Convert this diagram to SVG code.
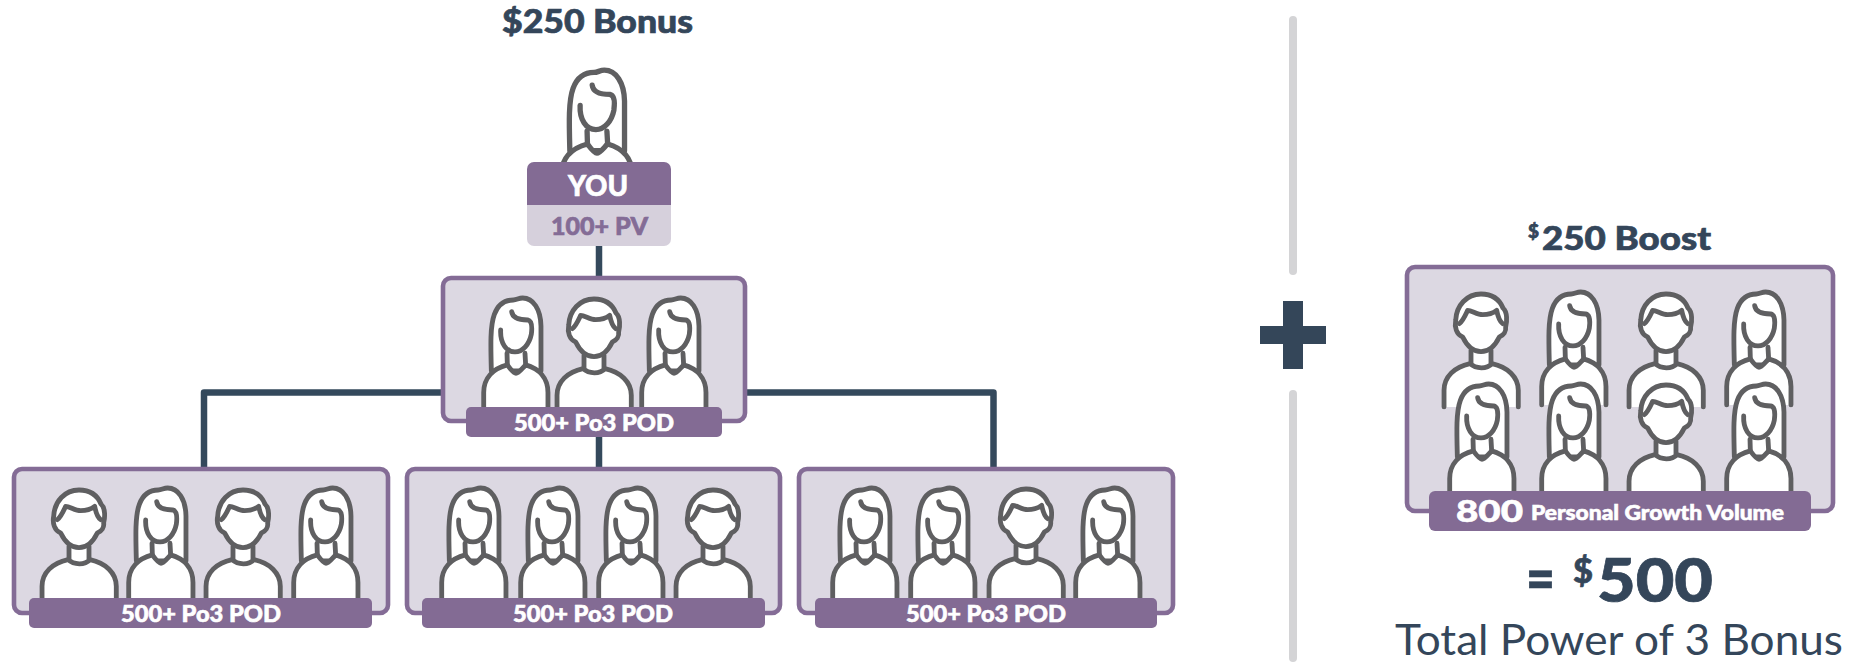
<svg xmlns="http://www.w3.org/2000/svg" width="1868" height="662" viewBox="0 0 1868 662">
<style>
.pod{fill:#dcd8e2;stroke:#846c96;stroke-width:4.600}
.lab{fill:#836b94}
.ico{fill:#fff;stroke:#5f5f61;stroke-width:14.500;stroke-linecap:round;stroke-linejoin:round}
.line{fill:none;stroke:#5f5f61;stroke-width:14.500;stroke-linecap:round;stroke-linejoin:round}
.nk{fill:#fff}
.cn{fill:none;stroke:#34495c;stroke-width:6.500;stroke-linejoin:round}
.t{font-family:Lato,"Open Sans",sans-serif;font-weight:900;fill:#34465a;stroke:#34465a;stroke-width:.7}
.w{font-family:Lato,"Open Sans",sans-serif;font-weight:900;fill:#fff;stroke:#fff;stroke-width:.6;text-anchor:middle}
.pl{font-size:22px}
</style>
<defs>
<g id="woman">
<path class="ico" d="M-74 225C-76 150-78 90-65 55C-52 20-28 12-8 12C2 12 8 6 20 6C52 6 74 40 75 90L75 225Z"/>
<path class="line" d="M-13 47C-10 70 20 72 35 72C50 75 48 100 46 115C40 145 20 168-3 168C-30 168-48 140-46 102"/>
<path class="line" d="M-27 172L-26 207M27 172L29 207"/>
<path class="ico" d="M-97 345V290C-97 245-68 218-26 207C-18 218-8 232 0 232C8 232 18 218 29 207C68 218 96 245 96 290V345"/>
</g>
<g id="man">
<path class="nk" d="M-30 170H30V225H-30Z"/>
<path class="ico" d="M-55 135C-74 128-80 105-76 85C-74 40-42 6 0 6C36 6 56 24 66 48C80 60 78 90 74 105C76 118 68 130 55 135C42 162 22 179 0 179C-22 179-42 162-55 135Z"/>
<path class="line" d="M-65 95C-55 88-48 72-40 55C-28 55-12 68 5 68C22 68 38 62 47 55C50 70 55 88 65 95"/>
<path class="line" d="M-30 175V213M30 175V213"/>
<path class="ico" d="M-111 345V295C-111 255-80 225-33 215C-15 232 18 232 33 215C80 225 112 255 112 295V345"/>
</g>
</defs>

<g id="divider" fill="#d4d4d6">
<rect x="1289" y="16" width="8" height="259" rx="4"/>
<rect x="1289" y="390" width="8" height="272" rx="4"/>
</g>
<path id="plus" fill="#344659" d="M1283 301H1303V326H1326V344H1303V369H1283V344H1260V326H1283Z"/>

<g id="connectors">
<path class="cn" d="M599 246V276M599 437V467M441 392.500H204V467M747 392.500H993.500V467"/>
</g>

<text class="t" x="502" y="33" font-size="32" textLength="191" lengthAdjust="spacingAndGlyphs">$250 Bonus</text>

<g id="you">
<use href="#woman" transform="translate(597 68) scale(.367)"/>
<path fill="#836b94" d="M527 205V169a7 7 0 0 1 7-7H664a7 7 0 0 1 7 7V205Z"/>
<path fill="#d6d0dc" d="M527 205H671V239a7 7 0 0 1-7 7H534a7 7 0 0 1-7-7Z"/>
<text class="w" x="598" y="196" font-size="28" textLength="60" lengthAdjust="spacingAndGlyphs">YOU</text>
<text x="599.500" y="235" font-size="25" font-family="Lato,sans-serif" font-weight="900" fill="#846c96" stroke="#846c96" stroke-width=".7" text-anchor="middle" textLength="97" lengthAdjust="spacingAndGlyphs">100+ PV</text>
</g>

<g id="pod-center">
<rect class="pod" x="443" y="278" width="302" height="143" rx="8"/>
<use href="#woman" transform="translate(516 296) scale(.333)"/>
<use href="#man" transform="translate(594 297) scale(.333)"/>
<use href="#woman" transform="translate(674 296) scale(.333)"/>
<rect class="lab" x="466" y="407" width="256" height="30" rx="5"/>
<text class="w pl" x="594" y="431" textLength="160" lengthAdjust="spacingAndGlyphs">500+ Po3 POD</text>
</g>

<g id="pod-left">
<rect class="pod" x="14" y="469" width="374" height="144" rx="8"/>
<use href="#man" transform="translate(79 488) scale(.333)"/>
<use href="#woman" transform="translate(161 486) scale(.333)"/>
<use href="#man" transform="translate(243 488) scale(.333)"/>
<use href="#woman" transform="translate(326 486) scale(.333)"/>
<rect class="lab" x="29" y="598" width="343" height="30" rx="5"/>
<text class="w pl" x="201" y="622" textLength="160" lengthAdjust="spacingAndGlyphs">500+ Po3 POD</text>
</g>

<g id="pod-middle">
<rect class="pod" x="407" y="469" width="373" height="144" rx="8"/>
<use href="#woman" transform="translate(474 486) scale(.333)"/>
<use href="#woman" transform="translate(553 486) scale(.333)"/>
<use href="#woman" transform="translate(631 486) scale(.333)"/>
<use href="#man" transform="translate(713 488) scale(.333)"/>
<rect class="lab" x="422" y="598" width="343" height="30" rx="5"/>
<text class="w pl" x="593" y="622" textLength="160" lengthAdjust="spacingAndGlyphs">500+ Po3 POD</text>
</g>

<g id="pod-right">
<rect class="pod" x="799" y="469" width="374" height="144" rx="8"/>
<use href="#woman" transform="translate(865 486) scale(.333)"/>
<use href="#woman" transform="translate(943 486) scale(.333)"/>
<use href="#man" transform="translate(1026 487) scale(.333)"/>
<use href="#woman" transform="translate(1108 486) scale(.333)"/>
<rect class="lab" x="815" y="598" width="342" height="30" rx="5"/>
<text class="w pl" x="986" y="622" textLength="160" lengthAdjust="spacingAndGlyphs">500+ Po3 POD</text>
</g>

<g id="boost">
<text class="t" x="1528" y="238" font-size="18" textLength="11" lengthAdjust="spacingAndGlyphs">$</text>
<text class="t" x="1542" y="250" font-size="32" textLength="169" lengthAdjust="spacingAndGlyphs">250 Boost</text>
<rect class="pod" x="1407" y="267" width="426" height="244" rx="8"/>
<use href="#man" transform="translate(1481 292) scale(.333)"/>
<use href="#woman" transform="translate(1574 290) scale(.333)"/>
<use href="#man" transform="translate(1666 292) scale(.333)"/>
<use href="#woman" transform="translate(1759 290) scale(.333)"/>
<use href="#woman" transform="translate(1482 382) scale(.333)"/>
<use href="#woman" transform="translate(1574 382) scale(.333)"/>
<use href="#man" transform="translate(1666 383) scale(.333)"/>
<use href="#woman" transform="translate(1759 382) scale(.333)"/>
<rect class="lab" x="1429" y="491" width="382" height="40" rx="6"/>
<text class="w" x="1489.500" y="522" font-size="31" textLength="67" lengthAdjust="spacingAndGlyphs">800</text>
<text class="w" x="1657.500" y="520" font-size="21" textLength="253" lengthAdjust="spacingAndGlyphs">Personal Growth Volume</text>
</g>

<g id="total">
<text class="t" x="1526" y="600" font-size="60" textLength="29" lengthAdjust="spacingAndGlyphs">=</text>
<text class="t" x="1573" y="583" font-size="34" textLength="20" lengthAdjust="spacingAndGlyphs">$</text>
<text class="t" x="1597" y="602" font-size="61" textLength="116" lengthAdjust="spacingAndGlyphs">500</text>
<text x="1395" y="655" font-size="42" font-family="Lato,sans-serif" font-weight="400" fill="#34465a" textLength="448" lengthAdjust="spacingAndGlyphs">Total Power of 3 Bonus</text>
</g>
</svg>
